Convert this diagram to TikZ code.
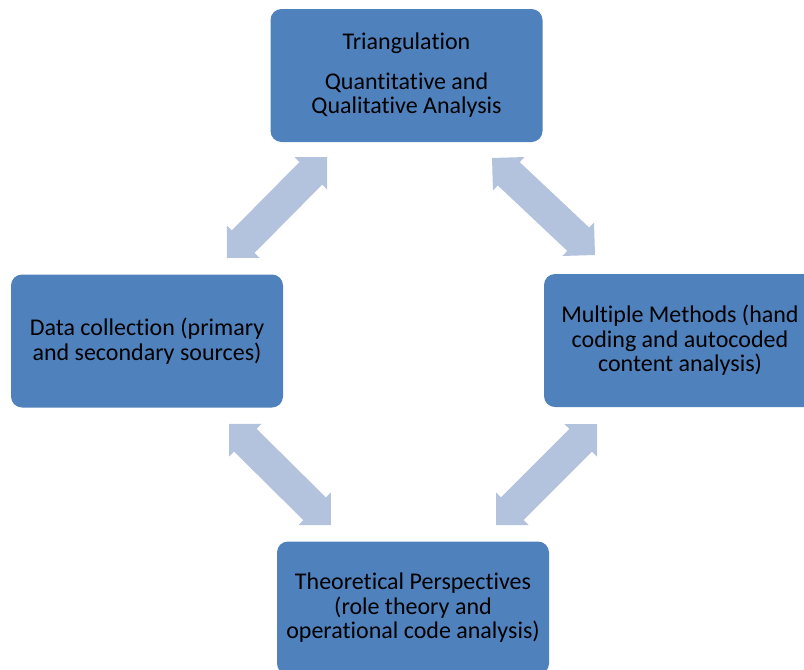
\documentclass[tikz,border=0pt]{standalone}
\usepackage{fontspec}
\setmainfont[Ligatures=NoCommon]{Carlito}
\usetikzlibrary{calc}
\definecolor{boxblue}{HTML}{4F81BD}
\definecolor{arrowblue}{HTML}{B3C3DE}
\tikzset{
  stagebox/.style={rectangle, rounded corners=11pt, fill=boxblue, draw=none,
    minimum width=272pt, minimum height=133pt, inner sep=0pt, align=center,
    text=black, font=\fontsize{24}{24.5}\selectfont},
  fatarrow/.style={fill=arrowblue, draw=none}
}
\newcommand{\dblarrow}[2]{%
  \fill[fatarrow]
    (#1)
    -- ($($(#1)!23pt!(#2)$)!23pt!90:(#2)$)
    -- ($($(#1)!23pt!(#2)$)!16pt!90:(#2)$)
    -- ($($(#2)!23pt!(#1)$)!16pt!-90:(#1)$)
    -- ($($(#2)!23pt!(#1)$)!23pt!-90:(#1)$)
    -- (#2)
    -- ($($(#2)!23pt!(#1)$)!23pt!90:(#1)$)
    -- ($($(#2)!23pt!(#1)$)!16pt!90:(#1)$)
    -- ($($(#1)!23pt!(#2)$)!16pt!-90:(#2)$)
    -- ($($(#1)!23pt!(#2)$)!23pt!-90:(#2)$)
    -- cycle;}
\begin{document}
\begin{tikzpicture}[x=1pt,y=-1pt]
  \fill[white] (0,0) rectangle (804,670);
  \useasboundingbox (0,0) rectangle (804,670);
  \clip (0,0) rectangle (804,670);

  \node[stagebox] (top) at (406.5,75.5) {Triangulation\\[15pt]Quantitative and\\Qualitative Analysis};
  \node[stagebox] (left) at (147,341) {Data collection (primary\\and secondary sources)};
  \node[stagebox] (right) at (680,340.5) {Multiple Methods (hand\\coding and autocoded\\content analysis)};
  \node[stagebox] (bottom) at (413,608) {Theoretical Perspectives\\(role theory and\\operational code analysis)};

  \coordinate (a1s) at (327,157);
  \coordinate (a1e) at (227,258);
  \coordinate (a2s) at (492,158);
  \coordinate (a2e) at (595,255);
  \coordinate (a3s) at (229,424);
  \coordinate (a3e) at (331,525);
  \coordinate (a4s) at (597,424);
  \coordinate (a4e) at (496,525);

  \dblarrow{a1s}{a1e}
  \dblarrow{a2s}{a2e}
  \dblarrow{a3s}{a3e}
  \dblarrow{a4s}{a4e}
\end{tikzpicture}
\end{document}
